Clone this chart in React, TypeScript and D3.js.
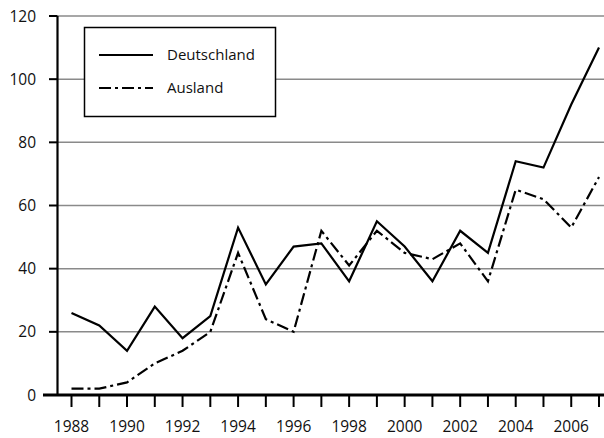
import { useEffect, useRef } from 'react';
import * as d3 from 'd3';

const years = d3.range(1988, 2008);
const deutschland = [26, 22, 14, 28, 18, 25, 53, 35, 47, 48, 36, 55, 47, 36, 52, 45, 74, 72, 92, 110];
const ausland = [2, 2, 4, 10, 14, 20, 45, 24, 20, 52, 41, 52, 45, 43, 48, 36, 65, 62, 53, 69];
const yTicks = [0, 20, 40, 60, 80, 100, 120];
const xLabelYears = [1988, 1990, 1992, 1994, 1996, 1998, 2000, 2002, 2004, 2006];
const seriesNames = ['Deutschland', 'Ausland'];

const FONT = '"Open Sans", "DejaVu Sans", sans-serif';
const DASH = '12,4,3,4';

export default function App() {
  const svgRef = useRef<SVGSVGElement>(null);

  useEffect(() => {
    if (!svgRef.current) return;
    const svg = d3.select(svgRef.current);
    svg.selectAll('*').remove();

    const x = d3.scaleLinear().domain([1988, 2007]).range([71.5, 599]);
    const y = d3.scaleLinear().domain([0, 120]).range([395, 16]);
    const axisX = 57.5;

    // gridlines
    svg.append('g')
      .selectAll('line')
      .data(yTicks.filter((d) => d > 0))
      .join('line')
      .attr('x1', axisX)
      .attr('x2', 604)
      .attr('y1', (d) => y(d))
      .attr('y2', (d) => y(d))
      .attr('stroke', '#8a8a8a')
      .attr('stroke-width', 1.5);

    // y axis
    svg.append('line')
      .attr('x1', axisX).attr('x2', axisX)
      .attr('y1', y(120)).attr('y2', y(0))
      .attr('stroke', '#000').attr('stroke-width', 2.2);

    svg.append('g')
      .selectAll('line')
      .data(yTicks)
      .join('line')
      .attr('x1', 49).attr('x2', axisX)
      .attr('y1', (d) => y(d)).attr('y2', (d) => y(d))
      .attr('stroke', '#000').attr('stroke-width', 2);

    svg.append('g')
      .selectAll('text')
      .data(yTicks)
      .join('text')
      .attr('x', 36)
      .attr('y', (d) => y(d))
      .attr('dy', '0.36em')
      .attr('text-anchor', 'end')
      .attr('font-family', FONT)
      .attr('font-size', 15.5)
      .attr('fill', '#111')
      .text((d) => d);

    // x axis ticks
    svg.append('g')
      .selectAll('line')
      .data(years)
      .join('line')
      .attr('x1', (d) => x(d)).attr('x2', (d) => x(d))
      .attr('y1', y(0)).attr('y2', 407)
      .attr('stroke', '#000').attr('stroke-width', 2);

    svg.append('line')
      .attr('x1', 43).attr('x2', 604)
      .attr('y1', y(0)).attr('y2', y(0))
      .attr('stroke', '#000').attr('stroke-width', 3);

    svg.append('g')
      .selectAll('text')
      .data(xLabelYears)
      .join('text')
      .attr('x', (d) => x(d))
      .attr('y', 432)
      .attr('text-anchor', 'middle')
      .attr('font-family', FONT)
      .attr('font-size', 15.5)
      .attr('fill', '#111')
      .text((d) => d);

    // legend
    const lg = svg.append('g');
    lg.append('rect')
      .attr('x', 84.5).attr('y', 27.5)
      .attr('width', 191).attr('height', 89)
      .attr('fill', '#fff').attr('stroke', '#000').attr('stroke-width', 1.5);
    seriesNames.forEach((name, i) => {
      const ly = 55 + i * 33;
      lg.append('line')
        .attr('x1', 99).attr('x2', 153)
        .attr('y1', ly).attr('y2', ly)
        .attr('stroke', '#000').attr('stroke-width', 2.2)
        .attr('stroke-dasharray', i === 1 ? DASH : null);
      lg.append('text')
        .attr('x', 167).attr('y', ly)
        .attr('dy', '0.36em')
        .attr('font-family', FONT)
        .attr('font-size', 15)
        .attr('fill', '#111')
        .text(name);
    });

    // lines
    const line = d3.line<number>()
      .x((_, i) => x(years[i]))
      .y((d) => y(d));

    svg.append('path')
      .datum(deutschland)
      .attr('fill', 'none')
      .attr('stroke', '#000')
      .attr('stroke-width', 2.2)
      .attr('d', line);

    svg.append('path')
      .datum(ausland)
      .attr('fill', 'none')
      .attr('stroke', '#000')
      .attr('stroke-width', 2.2)
      .attr('stroke-dasharray', DASH)
      .attr('d', line);
  }, []);

  return (
    <svg
      ref={svgRef}
      width={604}
      height={438}
      style={{ position: 'absolute', left: 0, top: 0, background: '#fff' }}
    />
  );
}
